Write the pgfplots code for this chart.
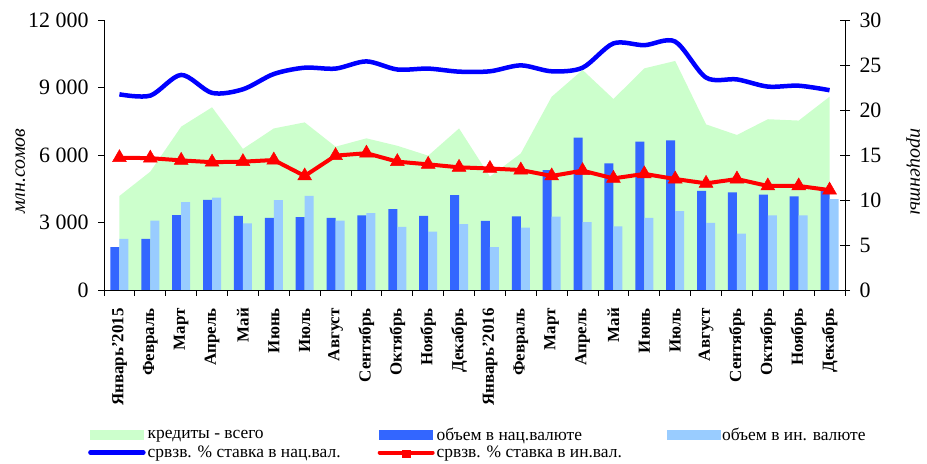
\documentclass[border=0pt]{standalone}
\usepackage{fontspec}
\setmainfont{Liberation Serif}
\usepackage{pgfplots}
\usepackage{pgfplotstable}
\pgfplotsset{compat=1.18}

\definecolor{areagreen}{RGB}{204,255,204}
\definecolor{natbar}{RGB}{51,102,255}
\definecolor{frnbar}{RGB}{153,204,255}
\definecolor{natline}{RGB}{0,0,255}
\definecolor{frnline}{RGB}{255,0,0}

% idx: Jan 2015 ... Dec 2016
\pgfplotstableread{
x total nat frn ratenat ratefrn
0 4180 1900 2270 21.74 14.70
1 5260 2270 3080 21.60 14.65
2 7260 3330 3910 23.90 14.40
3 8120 4000 4100 21.90 14.20
4 6270 3290 2960 22.30 14.26
5 7180 3200 3990 24.00 14.44
6 7450 3240 4180 24.70 12.67
7 6370 3200 3080 24.60 14.93
8 6740 3320 3420 25.40 15.20
9 6410 3590 2800 24.50 14.26
10 5970 3290 2590 24.60 13.96
11 7180 4220 2930 24.26 13.63
12 5040 3070 1900 24.30 13.50
13 6070 3270 2770 24.96 13.33
14 8590 5330 3260 24.30 12.67
15 9780 6770 3020 24.70 13.26
16 8490 5630 2830 27.40 12.40
17 9850 6590 3200 27.20 12.90
18 10180 6650 3510 27.60 12.33
19 7360 4400 2980 23.60 11.85
20 6890 4340 2500 23.40 12.33
21 7590 4240 3320 22.60 11.56
22 7530 4160 3320 22.70 11.56
23 8590 4400 4040 22.20 11.10
}\loandata

\newcommand{\lgbox}[1]{\makebox[228bp][l]{#1}}

\begin{document}
\begin{tikzpicture}
\pgfplotsset{
  base/.style={
    scale only axis, width=741bp, height=270bp,
    at={(104bp,174bp)}, anchor=south west,
    xmin=-0.5, xmax=23.5,
    axis line style={line width=0.8bp},
    tick style={black, line width=0.8bp},
  }
}
\begin{axis}[base,
  axis x line*=bottom, axis y line*=left,
  ymin=0, ymax=12000,
  scaled y ticks=false,
  ytick={0,3000,6000,9000,12000},
  yticklabels={0,3 000,6 000,9 000,12 000},
  yticklabel style={font=\fontsize{22}{22}\selectfont, xshift=-6bp},
  tick align=outside,
  major tick length=6bp,
  xtick={0,...,23},
  x tick style={draw=none},
  minor xtick={-0.5,0.5,...,23.5},
  minor x tick style={draw=black, line width=0.8bp},
  minor tick length=6bp,
  xticklabels={Январь'2015,Февраль,Март,Апрель,Май,Июнь,Июль,Август,Сентябрь,Октябрь,Ноябрь,Декабрь,
    Январь'2016,Февраль,Март,Апрель,Май,Июнь,Июль,Август,Сентябрь,Октябрь,Ноябрь,Декабрь},
  xticklabel style={rotate=90, anchor=east, font=\bfseries\fontsize{17}{17}\selectfont, inner sep=0pt, xshift=-12bp},
  ylabel={\itshape млн.сомов},
  ylabel style={font=\fontsize{20}{20}\selectfont, at={(axis description cs:-0.113,0.44)}, anchor=center},
]
\addplot[fill=areagreen, draw=none] table[x=x, y=total]{\loandata} \closedcycle;
\addplot[ybar, bar width=9bp, bar shift=-4.5bp, fill=natbar, draw=none] table[x=x, y=nat]{\loandata};
\addplot[ybar, bar width=9bp, bar shift=4.5bp, fill=frnbar, draw=none] table[x=x, y=frn]{\loandata};
\end{axis}

\begin{axis}[base,
  axis x line=none, axis y line*=right,
  ymin=0, ymax=30,
  ytick={0,5,...,30},
  /pgf/number format/assume math mode=true,
  yticklabel style={font=\fontsize{22}{22}\selectfont, xshift=6bp},
  ytick align=center,
  major tick length=10bp,
  ylabel={\itshape проценты},
  ylabel style={font=\fontsize{20}{20}\selectfont, at={(axis description cs:1.092,0.437)}, anchor=center, rotate=180},
  legend columns=3,
  legend style={at={(axis description cs:-0.0216,-0.503)}, anchor=north west, draw=none, fill=none,
    font=\fontsize{17.5}{17.5}\selectfont, inner sep=0pt, row sep=0bp,
    /tikz/every even column/.append style={column sep=0bp}},
  legend cell align=left,
]
\addlegendimage{legend image code/.code={\fill[areagreen] (0bp,-4.5bp) rectangle (53bp,4.5bp);}}
\addlegendentry{\lgbox{кредиты - всего}}
\addlegendimage{legend image code/.code={\fill[natbar] (0bp,-4.5bp) rectangle (53bp,4.5bp);}}
\addlegendentry{\lgbox{объем в нац.валюте}}
\addlegendimage{legend image code/.code={\fill[frnbar] (0bp,-4.5bp) rectangle (53bp,4.5bp);}}
\addlegendentry{\lgbox{объем в ин. валюте}}
\addplot[natline, line width=4.5bp, smooth, tension=0.5,
  legend image code/.code={\draw[natline, line width=4.5bp, line cap=round] (0bp,0bp) -- (53bp,0bp);}]
  table[x=x, y=ratenat]{\loandata};
\addlegendentry{\lgbox{срвзв. \% ставка в нац.вал.}}
\addplot[frnline, line width=4bp, mark=triangle*, mark size=8bp,
  mark options={line width=0.5bp},
  legend image code/.code={\draw[frnline, line width=4bp, line cap=round] (0bp,0bp) -- (53bp,0bp);
    \fill[frnline] (24bp,-3.5bp) rectangle (29bp,1bp);}]
  table[x=x, y=ratefrn]{\loandata};
\addlegendentry{\lgbox{срвзв. \% ставка в ин.вал.}}
\end{axis}
\pgfresetboundingbox
\useasboundingbox (0,0) rectangle (927bp,464bp);
\end{tikzpicture}
\end{document}
